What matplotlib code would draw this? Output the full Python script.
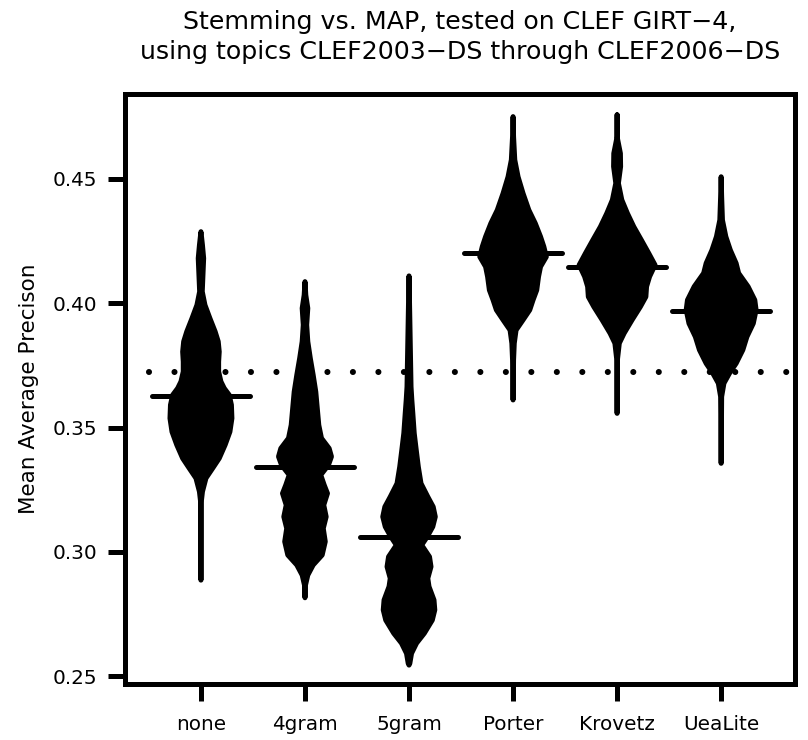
import numpy as np
import matplotlib
matplotlib.use("Agg")
import matplotlib.pyplot as plt

plt.rcParams['font.family'] = ['DejaVu Sans']

# stemmers on the x axis
groups = ["none", "4gram", "5gram", "Porter", "Krovetz", "UeaLite"]

# bean outlines: MAP value (y) and density half width
none_y = [0.4288, 0.4234, 0.4181, 0.4114, 0.4047, 0.3993, 0.3939, 0.3886, 0.3846, 0.3805,
          0.3765, 0.3725, 0.3685, 0.3658, 0.3631, 0.3591, 0.3537, 0.3483, 0.3430, 0.3376,
          0.3336, 0.3296, 0.3242, 0.3200, 0.2886]
none_d = [0, 1.5, 2.7, 2, 1.3, 4, 9, 14.2, 17.3, 18.3,
          17.7, 17.7, 20, 23.3, 28.3, 30.5, 31, 29, 24.2, 18.3,
          11.7, 5, 1.5, 0.3, 0]

g4_y = [0.4087, 0.4033, 0.3980, 0.3913, 0.3846, 0.3779, 0.3711, 0.3644, 0.3577, 0.3510,
        0.3457, 0.3416, 0.3383, 0.3349, 0.3309, 0.3269, 0.3235, 0.3188, 0.3141, 0.3094,
        0.3041, 0.2987, 0.2947, 0.2906, 0.2866, 0.2815]
g4_d = [0, 0.8, 2.8, 1.7, 2.8, 5.3, 8.2, 10.8, 12.3, 13.8,
        16.5, 24.2, 26.5, 23.5, 15.8, 19.2, 22.5, 18.8, 21.2, 18.3,
        20.3, 17.2, 8.2, 2.8, 0.5, 0]

g5_y = [0.4110, 0.3933, 0.3664, 0.3611, 0.3557, 0.3477, 0.3410, 0.3342, 0.3275, 0.3222,
        0.3181, 0.3141, 0.3101, 0.3061, 0.3027, 0.2980, 0.2940, 0.2893, 0.2860, 0.2806,
        0.2766, 0.2725, 0.2672, 0.2632, 0.2591, 0.2551, 0.2544]
g5_d = [0, 0.8, 2, 2.8, 3.8, 5.2, 7.2, 9.3, 12, 18.7,
        24.2, 26.3, 23.8, 18.3, 12.7, 20.5, 22, 18.8, 20, 25,
        25.8, 23.3, 15.3, 7.5, 2.5, 0.8, 0]

porter_y = [0.4751, 0.4670, 0.4577, 0.4509, 0.4442, 0.4375, 0.4322, 0.4268, 0.4228, 0.4187,
            0.4147, 0.4107, 0.4053, 0.4013, 0.3973, 0.3933, 0.3892, 0.3839, 0.3772, 0.3611]
porter_d = [0, 0.5, 1.7, 5, 10, 15.8, 22.2, 27.5, 30.8, 33.3,
            27.5, 25.5, 23.7, 20, 16.7, 10, 3, 1.2, 0.5, 0]

krovetz_y = [0.4758, 0.4670, 0.4603, 0.4550, 0.4483, 0.4416, 0.4362, 0.4308, 0.4255, 0.4201,
             0.4154, 0.4107, 0.4067, 0.4026, 0.3986, 0.3933, 0.3879, 0.3839, 0.3772, 0.3557]
krovetz_d = [0, 0, 3.3, 3.5, 1.3, 4.7, 10.3, 16.7, 24.2, 31.7,
             38, 32.5, 29.5, 28.8, 23.3, 15, 7, 2.2, 0.3, 0]

uea_y = [0.4509, 0.4429, 0.4335, 0.4268, 0.4214, 0.4161, 0.4121, 0.4067, 0.4013, 0.3973,
         0.3919, 0.3865, 0.3812, 0.3758, 0.3718, 0.3678, 0.3624, 0.3356]
uea_d = [0, 0.5, 1.3, 4.7, 9.2, 15, 17.5, 27, 33.7, 35,
         32.2, 25.8, 21.7, 15, 8.3, 2.8, 0.5, 0]

bean_y = [none_y, g4_y, g5_y, porter_y, krovetz_y, uea_y]
bean_d = [none_d, g4_d, g5_d, porter_d, krovetz_d, uea_d]

# per-bean average line and overall average
bean_avg = [0.3627, 0.3340, 0.3060, 0.4201, 0.4147, 0.3969]
overall_avg = 0.3722

W, H = 808, 740
fig = plt.figure(figsize=(W / 100, H / 100), dpi=100)
ax = fig.add_axes([125 / W, 1 - 684 / H, 670 / W, 590 / H])

bean_scale = 1 / 104.2
lw = 3.6

for i, (yy, dd) in enumerate(zip(bean_y, bean_d)):
    x0 = i + 1
    yy = np.array(yy)
    dd = np.array(dd) * bean_scale
    xs = np.concatenate([x0 - dd, (x0 + dd)[::-1]])
    ys = np.concatenate([yy, yy[::-1]])
    ax.fill(xs, ys, facecolor='black', edgecolor='black', lw=lw, joinstyle='round')
    ax.plot([x0 - 0.47, x0 + 0.47], [bean_avg[i]] * 2, color='black', lw=lw,
            solid_capstyle='round')

ax.plot([0.5, 6.63], [overall_avg] * 2, color='black', lw=4.4,
        linestyle=(0, (0.001, 4.17)), dash_capstyle='round')

ax.set_xlim(0.27, 6.71)
ax.set_ylim(0.2468, 0.4842)
ax.set_xticks(range(1, len(groups) + 1))
ax.set_xticklabels(groups)
ax.set_yticks([0.25, 0.30, 0.35, 0.40, 0.45])
ax.set_yticklabels(["0.25", "0.30", "0.35", "0.40", "0.45"])
for s in ax.spines.values():
    s.set_linewidth(lw)
ax.tick_params(direction='out', length=12, width=lw, labelsize=14.4)
ax.tick_params(axis='x', pad=10)
ax.tick_params(axis='y', pad=8)
ax.set_ylabel("Mean Average Precison", fontsize=15.5, labelpad=10)

fig.text(460 / W, 1 - 37 / H,
         "Stemming vs. MAP, tested on CLEF GIRT\u22124,\nusing topics CLEF2003\u2212DS through CLEF2006\u2212DS",
         ha='center', va='center', fontsize=18.2, linespacing=1.3)

fig.savefig("out.png", dpi=100)
